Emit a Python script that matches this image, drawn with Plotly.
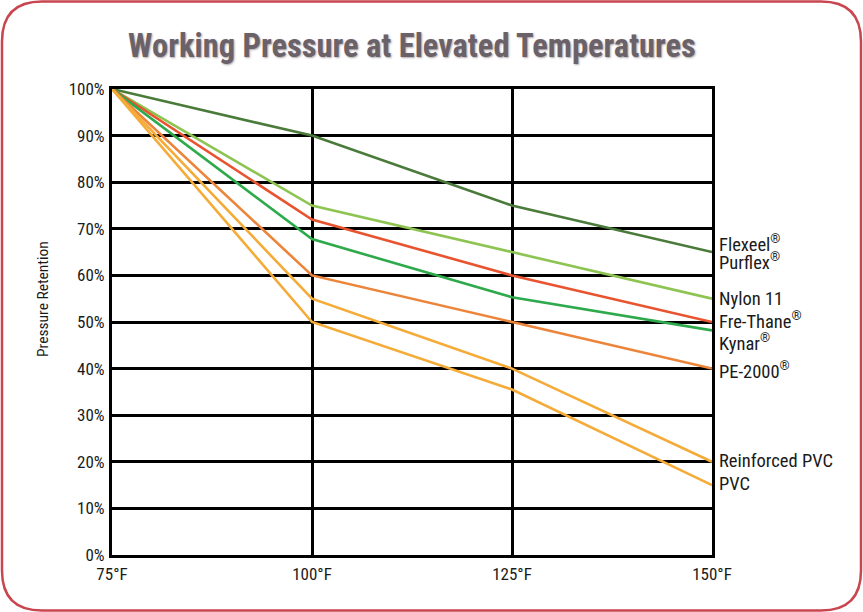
import plotly.graph_objects as go

temps = ["75°F", "100°F", "125°F", "150°F"]
temp_vals = [75, 100, 125, 150]

flexeel = [100, 90, 75, 65]
nylon11 = [100, 75, 65, 55]
frethane = [100, 72, 60, 50]
kynar = [100, 67.8, 55.3, 48.2]
pe2000 = [100, 60, 50, 40]
reinforced_pvc = [100, 55, 40, 20]
pvc = [100, 50, 35.5, 15]

series = [
    ("Flexeel/Purflex", flexeel, "#4b7b3b"),
    ("Nylon 11", nylon11, "#8dc452"),
    ("Fre-Thane", frethane, "#e8542f"),
    ("Kynar", kynar, "#2ea94b"),
    ("PE-2000", pe2000, "#ec843a"),
    ("Reinforced PVC", reinforced_pvc, "#f4ab38"),
    ("PVC", pvc, "#f4ab38"),
]

labels = ["Flexeel<sup>®</sup>", "Purflex<sup>®</sup>", "Nylon 11", "Fre-Thane<sup>®</sup>",
          "Kynar<sup>®</sup>", "PE-2000<sup>®</sup>", "Reinforced PVC", "PVC"]
label_y = [66.9, 62.9, 54.9, 50.3, 45.5, 39.7, 20.2, 15.2]

FONT = "Roboto Condensed, Liberation Sans Narrow, Arial Narrow, sans-serif"

fig = go.Figure()
for name, vals, color in series:
    fig.add_trace(go.Scatter(x=temp_vals, y=vals, mode="lines", name=name,
                             line=dict(color=color, width=2.6), showlegend=False,
                             hoverinfo="skip"))

for t, yv in zip(labels, label_y):
    fig.add_annotation(x=150, y=yv, xref="x", yref="y", text=t, showarrow=False,
                       xanchor="left", yanchor="middle", xshift=5,
                       font=dict(family=FONT, size=18.5, color="#1a1a1a"))

# rounded border in paper coords (plot area: x 112..712, y 89..555 px)
def px(xp):
    return (xp - 112) / 600.0

def py(yp):
    return (555 - yp) / 466.0

L, R, T, B, r = 2, 861, 1.5, 610.5, 40
path = (f"M {px(L+r)},{py(T)} L {px(R-r)},{py(T)} Q {px(R)},{py(T)} {px(R)},{py(T+r)} "
        f"L {px(R)},{py(B-r)} Q {px(R)},{py(B)} {px(R-r)},{py(B)} "
        f"L {px(L+r)},{py(B)} Q {px(L)},{py(B)} {px(L)},{py(B-r)} "
        f"L {px(L)},{py(T+r)} Q {px(L)},{py(T)} {px(L+r)},{py(T)} Z")
fig.add_shape(type="path", path=path, xref="paper", yref="paper",
              line=dict(color="#c9454f", width=2.5), layer="below")

fig.update_layout(
    width=863, height=612,
    margin=dict(l=112, r=151, t=89, b=57),
    paper_bgcolor="white", plot_bgcolor="white",
    title=dict(text="<b>Working Pressure at Elevated Temperatures</b>",
               x=0.5, xref="paper", xanchor="center",
               y=1 - 46 / 612, yref="container", yanchor="middle",
               font=dict(family=FONT, size=32.5, color="#6b6269",
                         shadow="1px 1px 2px #b0a8ad")),
    xaxis=dict(range=[75, 150], tickvals=temp_vals, ticktext=temps,
               showgrid=True, gridcolor="black", gridwidth=3,
               showline=True, linecolor="black", linewidth=3, mirror=True,
               zeroline=False, ticks="", ticklabelstandoff=2,
               tickfont=dict(family=FONT, size=17, color="#1a1a1a")),
    yaxis=dict(range=[0, 100], dtick=10, ticksuffix="%",
               showgrid=True, gridcolor="black", gridwidth=3,
               showline=True, linecolor="black", linewidth=3, mirror=True,
               zeroline=False, ticks="", ticklabelstandoff=1,
               tickfont=dict(family=FONT, size=17, color="#1a1a1a")),
)

fig.add_annotation(text="Pressure Retention", textangle=-90, x=px(43), y=py(299),
                   xref="paper", yref="paper", showarrow=False,
                   xanchor="center", yanchor="middle",
                   font=dict(family=FONT, size=15.5, color="#1a1a1a"))

fig.write_html("out.html", config={"displayModeBar": False},
               post_script="document.body.style.margin='0';document.body.style.overflow='hidden';")
